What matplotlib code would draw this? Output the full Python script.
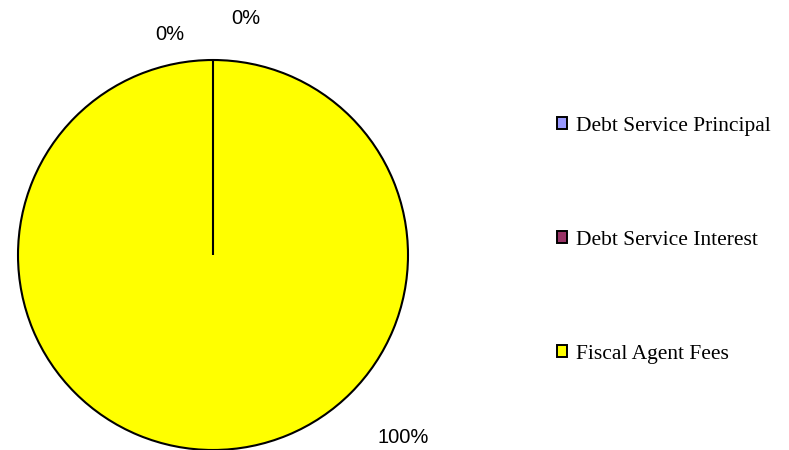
import numpy as np
import matplotlib
matplotlib.use("Agg")
import matplotlib.pyplot as plt
from matplotlib.patches import Patch

categories = ["Debt Service Principal", "Debt Service Interest", "Fiscal Agent Fees"]
values = [0, 0, 100]
pct_labels = ["0%", "0%", "100%"]
colors = ["#9999FF", "#993366", "#FFFF00"]

fig = plt.figure(figsize=(7.89, 4.5), dpi=100)
ax = fig.add_axes([18 / 789, 0, 390 / 789, 390 / 450])
wedges, _ = ax.pie(values, colors=colors, startangle=90, counterclock=False,
                   radius=1.0, wedgeprops=dict(edgecolor="black", linewidth=1.5))
for w in wedges:
    w.set_clip_on(False)

# radial boundary of the zero-sized slices
theta = np.deg2rad(wedges[0].theta1)
ax.plot([0, np.cos(theta)], [0, np.sin(theta)], color="black", lw=1.5,
        clip_on=False, solid_capstyle="butt")

ax.set_xlim(-1, 1)
ax.set_ylim(-1, 1)
ax.set_aspect("equal")
ax.axis("off")

# percentage labels placed outside the pie
label_pos = [(-0.22, 1.13), (0.17, 1.215), (0.974, -0.936)]
for (x, y), txt in zip(label_pos, pct_labels):
    ax.text(x, y, txt, ha="center", va="center", fontsize=14.5,
            family="Liberation Sans", clip_on=False)

handles = [Patch(facecolor=c, edgecolor="black", linewidth=1.4) for c in colors]
fig.legend(handles, categories, loc="center left", bbox_to_anchor=(538 / 789, 0.4665),
           frameon=False, prop=dict(family="Liberation Serif", size=15.5),
           handlelength=0.47, handleheight=0.47, handletextpad=0.4,
           labelspacing=4.41)

fig.savefig("out.png", dpi=100)
